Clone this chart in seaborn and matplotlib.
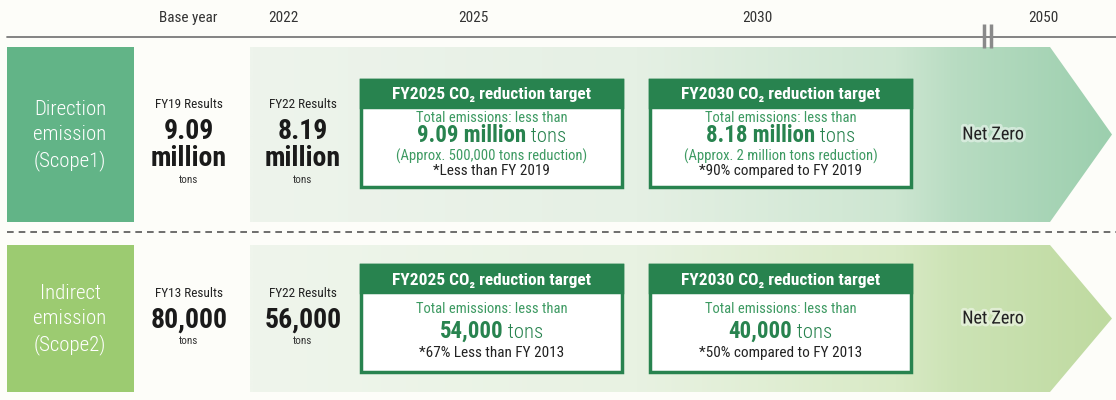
import numpy as np
import matplotlib.pyplot as plt
import seaborn as sns
from matplotlib import font_manager as fm
from matplotlib.patches import Polygon, Rectangle
from matplotlib.colors import LinearSegmentedColormap
from matplotlib.offsetbox import TextArea, HPacker, AnnotationBbox
import matplotlib.patheffects as pe

# ---- data ----
header_labels = ['Base year', '2022', '2025', '2030', '2050']
row_titles = ['Direction\nemission\n(Scope1)', 'Indirect\nemission\n(Scope2)']
base_labels = ['FY19 Results', 'FY13 Results']
base_values = ['9.09\nmillion', '80,000']
latest_labels = ['FY22 Results', 'FY22 Results']
latest_values = ['8.19\nmillion', '56,000']
target_titles = ['FY2025 CO\u2082 reduction target', 'FY2030 CO\u2082 reduction target']
target_values = [['9.09 million', '8.18 million'], ['54,000', '40,000']]
target_notes = [['(Approx. 500,000 tons reduction)', '(Approx. 2 million tons reduction)'],
                [None, None]]
target_footnotes = [['*Less than FY 2019', '*90% compared to FY 2019'],
                    ['*67% Less than FY 2013', '*50% compared to FY 2013']]
goal_text = 'Net Zero'

sns.set_theme(style='white')
installed = {f.name for f in fm.fontManager.ttflist}
narrow = next((n for n in ['Roboto Condensed', 'Archivo Narrow', 'Fira Sans Condensed',
                           'Barlow Semi Condensed', 'Asap Condensed', 'Liberation Sans Narrow']
               if n in installed), 'DejaVu Sans')
FONT = [narrow, 'DejaVu Sans']
plt.rcParams['font.family'] = FONT

BG = '#fdfdf9'
DARK_GREEN = '#28834f'
TEXT_GREEN = '#3d9a62'
row_colors = ['#62b487', '#9ccb71']
arrow_stops = [
    [(0.0, '#eef4ec'), (0.45, '#e5f0e4'), (0.75, '#cde6d1'), (0.82, '#b8dcc2'), (1.0, '#9ccfae')],
    [(0.0, '#eff5ec'), (0.45, '#e8f2e2'), (0.75, '#d9eac6'), (0.82, '#cce3b5'), (1.0, '#bfdaa0')],
]

fig, ax = plt.subplots(figsize=(11.16, 4.0), dpi=100)
fig.subplots_adjust(0, 0, 1, 1)
fig.patch.set_facecolor(BG)
ax.set_facecolor(BG)
ax.set_xlim(0, 1116)
ax.set_ylim(400, 0)
ax.axis('off')

# header
header_x = [188, 283, 473, 757, 1043]
for lab, x in zip(header_labels, header_x):
    ax.text(x, 18, lab, ha='center', va='center', fontsize=11, color='#333333')
ax.plot([7, 1116], [37, 37], color='#7a7a7a', lw=1.3)
for bx in [984, 991]:
    ax.plot([bx, bx], [24, 48], color='#8a8a8a', lw=2.5, solid_capstyle='butt')

# dashed separator
ax.plot([7, 1116], [232, 232], color='#555555', lw=1.2, ls=(0, (4, 3)))

rows = [dict(top=47, bot=222, btop=80), dict(top=245, bot=392, btop=265)]
box_x = [361, 650]
box_w = 261

for r, geo in enumerate(rows):
    top, bot = geo['top'], geo['bot']
    mid = (top + bot) / 2

    # row title box
    ax.add_patch(Rectangle((7, top), 127, bot - top, color=row_colors[r], lw=0))
    ax.text(70, mid + 1, row_titles[r], ha='center', va='center', color='white',
            fontsize=15, fontweight='light', linespacing=1.38)

    # arrow with gradient
    poly = Polygon([(250, top), (1050, top), (1112, mid), (1050, bot), (250, bot)],
                   closed=True, facecolor='none', edgecolor='none')
    ax.add_patch(poly)
    cmap = LinearSegmentedColormap.from_list('g%d' % r, arrow_stops[r])
    grad = np.linspace(0, 1, 512).reshape(1, -1)
    im = ax.imshow(grad, cmap=cmap, aspect='auto', extent=[250, 1112, bot, top],
                   interpolation='bilinear', zorder=1)
    im.set_clip_path(poly)

    # results columns
    for cx, lab, val in [(189, base_labels[r], base_values[r]),
                         (303, latest_labels[r], latest_values[r])]:
        two = '\n' in val
        ly = 105 if two else mid - 25
        ax.text(cx, ly, lab, ha='center', va='center', fontsize=9.5, color='#222222', zorder=3)
        vy = 145 if two else mid + 2
        ax.text(cx, vy, val, ha='center', va='center', fontsize=20, fontweight='bold',
                color='#1a1a1a', linespacing=1.0, zorder=3)
        ty = 180 if two else mid + 22
        ax.text(cx, ty, 'tons', ha='center', va='center', fontsize=8, color='#333333', zorder=3)

    # target boxes
    btop = geo['btop']
    bh = 107
    for k in range(2):
        x0 = box_x[k]
        ax.add_patch(Rectangle((x0, btop), box_w, bh, facecolor='white',
                               edgecolor=DARK_GREEN, lw=2.5, zorder=3))
        ax.add_patch(Rectangle((x0, btop), box_w, 27, facecolor=DARK_GREEN,
                               edgecolor=DARK_GREEN, lw=2.5, zorder=4))
        cx = x0 + box_w / 2
        ax.text(cx, btop + 15, target_titles[k], ha='center', va='center', color='white',
                fontsize=12.5, fontweight='bold', zorder=5)
        note = target_notes[r][k]
        if note is not None:
            ys = [btop + 38, btop + 56, btop + 76, btop + 91]
        else:
            ys = [btop + 44, btop + 66, None, btop + 88]
        ax.text(cx, ys[0], 'Total emissions: less than', ha='center', va='center',
                color=TEXT_GREEN, fontsize=10.5, zorder=5)
        ta_b = TextArea(target_values[r][k], textprops=dict(fontsize=16.5, fontweight='bold',
                                                             color=DARK_GREEN, family=FONT))
        ta_r = TextArea(' tons', textprops=dict(fontsize=15, fontweight='light',
                                                color=DARK_GREEN, family=FONT))
        pack = HPacker(children=[ta_b, ta_r], align='baseline', pad=0, sep=0)
        ab = AnnotationBbox(pack, (cx, ys[1]), frameon=False, box_alignment=(0.5, 0.5),
                            pad=0, zorder=5)
        ax.add_artist(ab)
        if note is not None:
            ax.text(cx, ys[2], note, ha='center', va='center', color=TEXT_GREEN,
                    fontsize=10.5, zorder=5)
        ax.text(cx, ys[3], target_footnotes[r][k], ha='center', va='center',
                color='#222222', fontsize=11, zorder=5)

    ax.text(993, mid, goal_text, ha='center', va='center', fontsize=13, color='#222222',
            zorder=5, path_effects=[pe.withStroke(linewidth=4, foreground='white', alpha=0.45)])

plt.savefig('out.png', dpi=100, facecolor=BG)
